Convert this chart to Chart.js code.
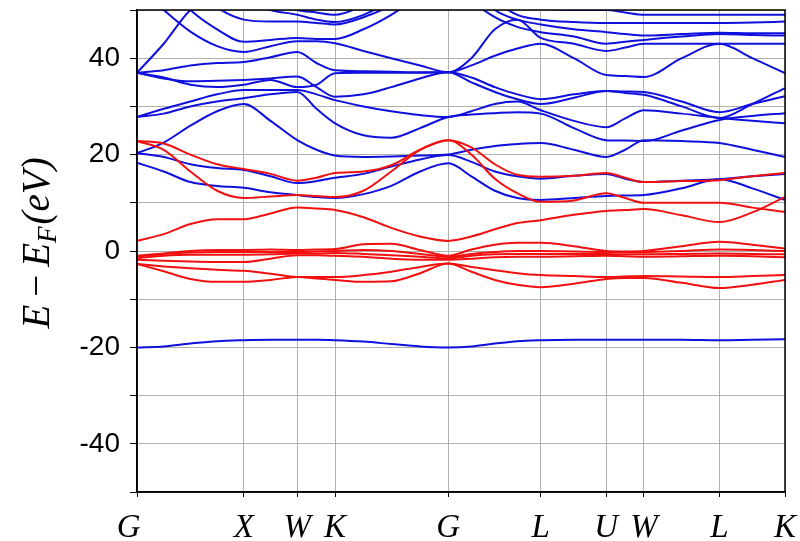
<!DOCTYPE html>
<html>
<head>
<meta charset="utf-8">
<script src="https://cdn.jsdelivr.net/npm/chart.js@4.4.1/dist/chart.umd.min.js"></script>
<style>
  html, body { margin:0; padding:0; background:#fff; }
  #wrap { width:800px; height:541px; position:relative; }
</style>
</head>
<body>
<div id="wrap"><canvas id="bands"></canvas></div>
<script>
// k-path: high symmetry points (FCC distances) and their labels
const kTicks  = [0, 1, 1.5, 1.854, 2.914, 3.780, 4.392, 4.746, 5.453, 6.066];
const kLabels = ["G", "X", "W", "K", "G", "L", "U", "W", "L", "K"];
// sample positions along the path where band energies were read
const kPts = [0, 0.25, 0.5, 0.75, 1, 1.25, 1.5, 1.68, 1.854, 2.12, 2.38, 2.65, 2.914,
              3.13, 3.35, 3.56, 3.78, 4.09, 4.392, 4.57, 4.746, 5.1, 5.453, 5.76, 6.066];

// energy axis ticks
const yTicksShown = [-40, -20, 0, 20, 40];

// red bands (eV)
const red1 = [-2.7,-4.2,-5.8,-6.4,-6.4,-6.0,-5.4,-5.7,-6.0,-6.4,-6.3,-4.6,-2.6,-4.3,-6.0,-7.0,-7.5,-6.8,-5.8,-5.6,-5.6,-6.6,-7.7,-7.0,-6.0];
const red2 = [-2.7,-3.2,-3.6,-3.9,-4.1,-4.7,-5.4,-5.4,-5.4,-5.0,-4.3,-3.3,-2.6,-3.3,-4.0,-4.6,-5.0,-5.2,-5.4,-5.3,-5.2,-5.3,-5.4,-5.2,-5.0];
const red3 = [-1.8,-2.0,-2.2,-2.3,-2.3,-1.6,-0.9,-0.9,-1.0,-1.2,-1.6,-1.8,-1.8,-1.6,-1.3,-1.2,-1.2,-1.1,-1.0,-1.1,-1.2,-1.1,-1.0,-1.1,-1.3];
const red4 = [-1.5,-1.0,-0.8,-0.8,-0.8,-0.7,-0.5,-0.5,-0.4,-0.6,-0.9,-1.2,-1.5,-1.0,-0.7,-0.6,-0.6,-0.6,-0.6,-0.7,-0.7,-0.6,-0.5,-0.6,-0.7];
const red5 = [-1.2,-0.6,-0.3,-0.2,-0.2,-0.2,-0.2,-0.1,0.0,0.2,0.0,-0.6,-1.2,-0.6,-0.2,0.0,0.0,-0.1,-0.2,-0.2,-0.2,0.0,0.3,0.2,0.0];
const red6 = [-1.0,-0.5,0.0,0.2,0.2,0.3,0.2,0.3,0.4,1.4,1.5,0.2,-1.0,0.3,1.3,1.7,1.7,1.0,0.0,-0.1,0.0,1.0,1.9,1.3,0.5];
const red7 = [2.1,3.5,5.6,6.6,6.6,7.8,9.0,8.8,8.5,7.0,4.8,3.0,2.1,3.0,4.5,5.8,6.4,7.5,8.3,8.5,8.7,7.4,6.0,8.0,11.2];
const red8 = [22.8,22.3,20.0,18.0,17.0,16.0,14.6,15.2,16.2,16.5,17.8,21.0,23.0,21.5,18.0,15.8,15.4,15.6,16.2,15.2,14.3,14.5,14.7,15.5,16.2];
const red9 = [22.8,21.0,16.5,12.5,11.0,11.3,11.6,11.4,11.2,12.5,16.5,21.0,23.0,20.0,15.0,12.0,10.2,10.5,12.0,11.0,10.0,10.0,10.0,9.0,8.1];

// blue bands (eV)
const blueCore = [-20,-19.8,-19.2,-18.7,-18.5,-18.4,-18.4,-18.4,-18.5,-18.8,-19.3,-19.8,-20,-19.8,-19.2,-18.7,-18.5,-18.4,-18.4,-18.4,-18.4,-18.4,-18.5,-18.4,-18.3];
const blue1  = [18.3,16.5,14.3,13.5,13.1,12.2,11.6,11.2,11.0,11.8,13.5,16.5,18.2,15.5,12.5,11.0,10.6,11.0,11.4,11.5,11.6,13.0,14.9,13.0,10.6];
const blue2  = [20.3,19.5,18.0,17.2,16.8,15.5,14.1,14.5,15.2,16.0,17.5,19.0,19.9,18.5,16.5,15.5,15.0,15.6,16.0,15.0,14.3,14.6,14.9,15.5,16.0];
const blue3  = [20.3,22.5,26.0,29.0,30.5,27.0,23.0,21.0,19.8,19.5,19.6,19.8,20.0,21.0,21.8,22.2,22.4,21.0,19.5,21.0,23.0,22.8,22.4,21.0,19.5];
const blue4  = [27.8,28.5,30.0,31.0,31.7,32.5,33.0,29.5,26.5,24.0,23.5,25.5,27.8,28.3,28.6,28.8,28.5,25.5,23.0,22.9,22.8,25.0,27.2,28.0,28.6];
const blue5  = [27.8,29.5,31.0,32.5,33.4,33.4,33.4,32.5,31.3,30.0,29.0,28.2,27.8,29.0,30.5,31.0,29.2,27.0,25.7,27.5,29.2,28.5,27.6,27.0,26.5];
const blue6  = [37.0,35.8,35.2,35.3,35.5,35.8,36.2,34.0,32.0,32.5,34.0,35.8,37.1,35.0,33.0,31.5,30.5,31.8,33.2,33.1,33.0,31.0,28.8,30.5,32.1];
const blue7  = [37.0,36.0,34.5,34.0,34.5,35.5,34.0,34.5,36.9,37.0,37.0,37.0,37.1,36.0,34.0,32.5,31.5,32.5,33.2,32.8,32.4,30.0,27.6,30.5,33.8];
const blue8  = [37.0,37.5,38.5,39.0,39.2,40.2,41.3,39.0,37.5,37.3,37.2,37.1,37.1,38.5,40.5,42.0,43.0,40.0,36.5,36.3,36.1,40.0,43.0,40.0,36.9];
const blue9  = [55.0,50.0,45.5,42.5,41.3,42.5,43.5,43.5,43.1,41.5,40.0,38.5,37.1,40.0,46.0,48.0,44.2,43.0,41.5,42.2,43.0,43.0,43.0,43.0,43.0];
const blue10 = [62.0,56.0,50.0,46.0,43.4,43.8,44.2,44.0,44.0,46.0,49.0,53.0,57.0,52.0,48.5,46.5,45.4,44.5,43.0,43.4,43.8,44.5,45.0,44.8,44.7];
const blue11 = [65.0,60.0,55.0,50.5,48.0,47.6,47.6,47.3,47.0,48.5,51.0,55.0,60.0,55.0,50.0,48.0,47.0,46.0,45.4,45.0,44.7,45.0,45.3,45.2,45.2];
const blue12 = [37.0,43.0,50.0,53.0,52.0,50.0,49.0,48.0,47.5,49.0,52.0,56.0,62.0,57.0,52.0,49.0,48.0,47.5,47.3,47.3,47.3,47.3,47.3,47.4,47.6];
const blue13 = [70.0,66.0,62.0,58.0,55.0,52.0,50.0,49.5,49.0,51.0,54.0,58.0,64.0,60.0,55.0,52.0,50.5,50.0,50.0,49.5,49.0,49.0,49.0,49.0,49.0];

const redBands  = [red1, red2, red3, red4, red5, red6, red7, red8, red9];
const blueBands = [blueCore, blue1, blue2, blue3, blue4, blue5, blue6, blue7, blue8, blue9, blue10, blue11, blue12, blue13];

const RED = "#f01010", BLUE = "#1010dd";

function toDataset(band, color){
  return {
    data: kPts.map((k, i) => ({ x:k, y:band[i] })),
    borderColor: color, borderWidth: 2, pointRadius: 0,
    cubicInterpolationMode: "monotone", fill: false
  };
}

// first dataset is drawn on top, so red goes first
const datasets = [
  ...redBands.map(b => toDataset(b, RED)),
  ...blueBands.map(b => toDataset(b, BLUE))
];

/* ====== frame (top/right spines) + y axis title with subscript ====== */
const framePlugin = {
  id: "frame",
  afterDraw(chart){
    const { ctx, chartArea:a } = chart;
    ctx.save();
    ctx.strokeStyle = "#000"; ctx.lineWidth = 1.5;
    ctx.strokeRect(a.left, a.top, a.right - a.left, a.bottom - a.top);

    // y label: E − E_F(eV)
    const big = 39, small = 27, gap = 8;
    const parts = [
      { t:"E",      font:`italic ${big}px "Liberation Serif"`, dy:0, pad:gap },
      { t:"\u2212", font:`${big}px "Liberation Serif"`,        dy:0, pad:gap },
      { t:"E",      font:`italic ${big}px "Liberation Serif"`, dy:0, pad:0 },
      { t:"F",      font:`italic ${small}px "Liberation Serif"`, dy:7, pad:2 },
      { t:"(eV)",   font:`italic ${big}px "Liberation Serif"`, dy:0, pad:0 }
    ];
    let total = 0;
    parts.forEach(p => { ctx.font = p.font; p.w = ctx.measureText(p.t).width; total += p.w + p.pad; });
    ctx.translate(49, 243);
    ctx.rotate(-Math.PI / 2);
    ctx.fillStyle = "#000";
    ctx.textBaseline = "alphabetic";
    let x = -total / 2;
    parts.forEach(p => { ctx.font = p.font; ctx.fillText(p.t, x, p.dy); x += p.w + p.pad; });
    ctx.restore();
  }
};

new Chart(document.getElementById("bands"), {
  type: "line",
  data: { datasets },
  options: {
    responsive: true,
    maintainAspectRatio: false,
    animation: false,
    layout: { padding: { top:10, right:15, left:0, bottom:0 } },
    plugins: { legend:{ display:false }, tooltip:{ enabled:false } },
    scales: {
      x: {
        type: "linear",
        min: kTicks[0], max: kTicks[kTicks.length - 1],
        afterBuildTicks: s => { s.ticks = kTicks.map(v => ({ value:v })); },
        afterFit: s => { s.height = 49; s.paddingLeft = 0; s.paddingRight = 0; },
        ticks: {
          autoSkip: false, maxRotation: 0, padding: 12, color: "#000",
          font: { family:"Liberation Serif", style:"italic", size:33 },
          // the first label sits a little left of its tick in the original
          callback: (v, i) => i === 0 ? kLabels[i] + "  " : kLabels[i]
        },
        grid: { color:"#b0b0b0", lineWidth:1, tickLength:5, tickColor:"#000" },
        border: { display:true, color:"#000", width:1.5 }
      },
      y: {
        min: -50, max: 50,
        afterFit: s => { s.width = 137; s.paddingTop = 0; s.paddingBottom = 0; },
        ticks: {
          stepSize: 10, padding: 10, color: "#000",
          font: { family:"Liberation Sans", size:28 },
          callback: v => yTicksShown.includes(v) ? String(v) : ""
        },
        grid: { color:"#b0b0b0", lineWidth:1, tickLength:7, tickColor:"#000" },
        border: { display:true, color:"#000", width:1.5 }
      }
    }
  },
  plugins: [framePlugin]
});
</script>
</body>
</html>
